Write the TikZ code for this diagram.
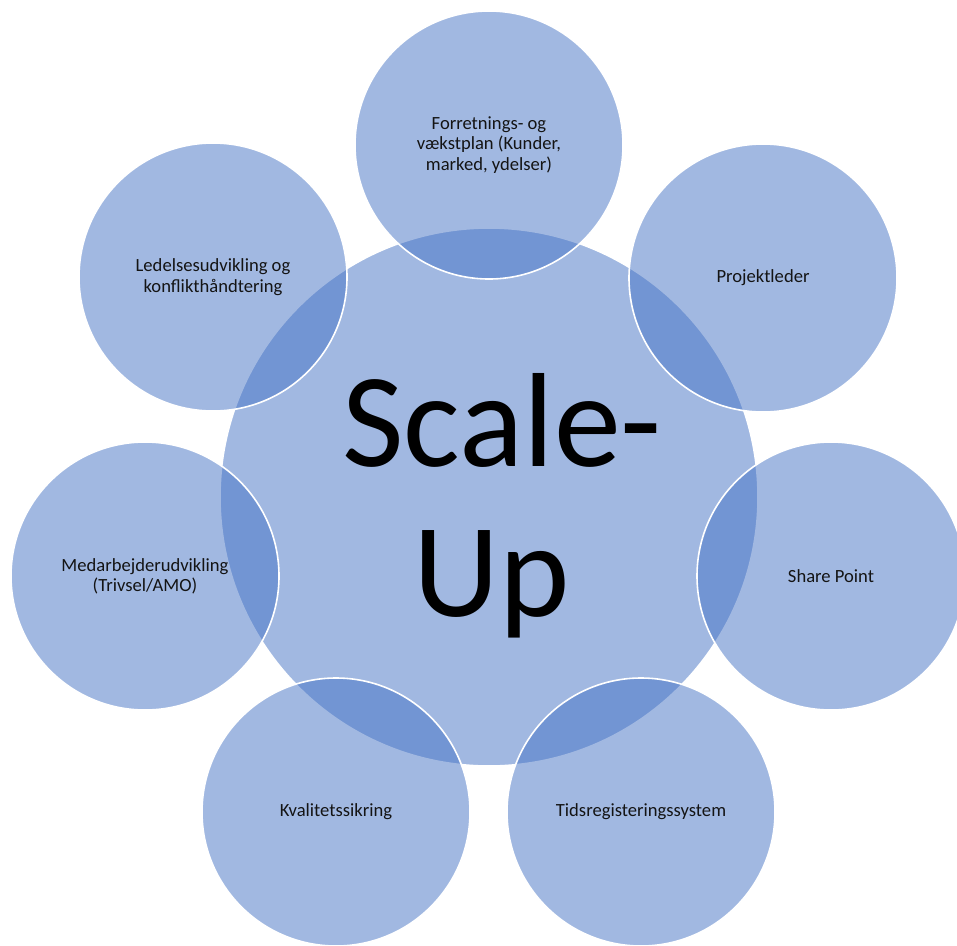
\documentclass[tikz,border=0pt]{standalone}
\usepackage{fontspec}
\setmainfont{Carlito}
\definecolor{circblue}{HTML}{4472C4}
\definecolor{labelink}{HTML}{141414}
\begin{document}
\begin{tikzpicture}[x=1pt,y=-1pt,
  bubble/.style={circle,inner sep=0pt,outer sep=0pt,fill=circblue,fill opacity=0.5,
    draw=white,draw opacity=1,line width=1.6pt,text opacity=1,text=labelink,align=center},
  sat/.style={bubble,minimum size=268pt,font=\fontsize{18.6}{20.3}\selectfont},
  hub/.style={bubble,minimum size=538pt}]
\useasboundingbox (0,0) rectangle (957,945);
\node[hub] (c) at (489,497) {};
\node[sat] (s1) at (489,145) {Forretnings- og\\vækstplan (Kunder,\\marked, ydelser)};
\node[sat] (s2) at (763,278) {Projektleder};
\node[sat] (s3) at (831,576) {Share Point};
\node[sat] (s4) at (641,812) {Tidsregisteringssystem};
\node[sat] (s5) at (336,812) {Kvalitetssikring};
\node[sat] (s6) at (145,576) {Medarbejderudvikling\\(Trivsel/AMO)};
\node[sat] (s7) at (213,277) {Ledelsesudvikling og\\konflikthåndtering};
\node[align=center,inner sep=0pt,text=black,font=\fontsize{134}{150}\selectfont] (t) at (492,506) {\kern20pt Scale-\\Up};
\end{tikzpicture}
\end{document}
